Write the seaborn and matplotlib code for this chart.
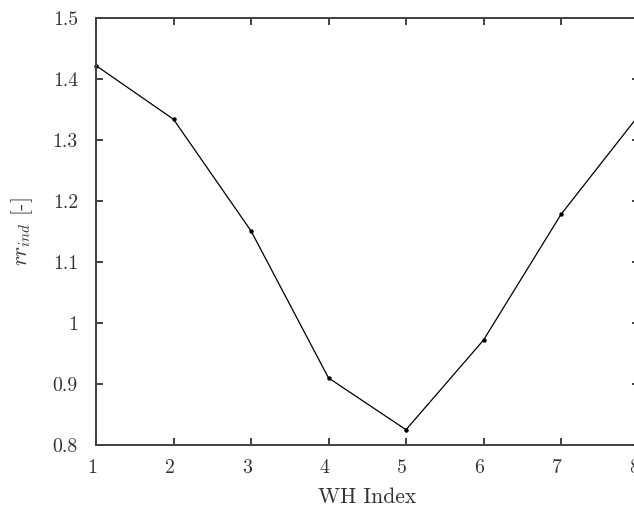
import matplotlib
matplotlib.use("Agg")
import matplotlib.pyplot as plt
import matplotlib.transforms as mtransforms
import seaborn as sns
import pandas as pd

# WH index vs. rr_ind
wh_index = [1, 2, 3, 4, 5, 6, 7, 8]
rr_ind = [1.422, 1.334, 1.151, 0.910, 0.825, 0.972, 1.178, 1.340]
y_ticks = [0.8, 0.9, 1.0, 1.1, 1.2, 1.3, 1.4, 1.5]
y_tick_labels = ["0.8", "0.9", "1", "1.1", "1.2", "1.3", "1.4", "1.5"]
x_ticks = [1, 2, 3, 4, 5, 6, 7, 8]

sns.set_style("ticks")
plt.rcParams.update({
    "font.family": "serif",
    "font.serif": ["cmr10", "DejaVu Serif"],
    "mathtext.fontset": "cm",
    "axes.formatter.use_mathtext": True,
    "axes.unicode_minus": False,
})

df = pd.DataFrame({"wh": wh_index, "rr": rr_ind})

fig = plt.figure(figsize=(6.34, 5.09), dpi=100)
ax = fig.add_axes([96 / 634, 1 - 445 / 509, 542.5 / 634, 427 / 509])

sns.lineplot(data=df, x="wh", y="rr", ax=ax, color="black", linewidth=0.9,
             marker="o", markersize=3.2, markeredgewidth=0, clip_on=False)

ax.set_xlim(1, 8)
ax.set_ylim(0.8, 1.5)
ax.set_xticks(x_ticks)
ax.set_xticklabels([str(v) for v in x_ticks])
ax.set_yticks(y_ticks)
ax.set_yticklabels(y_tick_labels)

for s in ax.spines.values():
    s.set_visible(True)
    s.set_color("#404040")
    s.set_linewidth(1.4)

ax.tick_params(direction="in", top=True, right=True, length=5, width=1.4,
               color="#404040", labelcolor="#333333", labelsize=14.3)
ax.tick_params(axis="x", pad=10)
ax.tick_params(axis="y", pad=13)

# nudge x tick labels slightly left
shift = mtransforms.ScaledTranslation(-4 / 100, 0, fig.dpi_scale_trans)
for lbl in ax.get_xticklabels():
    lbl.set_transform(lbl.get_transform() + shift)

ax.set_xlabel("WH Index", fontsize=15.5, color="#333333", labelpad=8)
ax.set_ylabel(r"$rr_{ind}$ [-]", fontsize=15.5, color="#333333", labelpad=13)

fig.savefig("out.png", dpi=100)
